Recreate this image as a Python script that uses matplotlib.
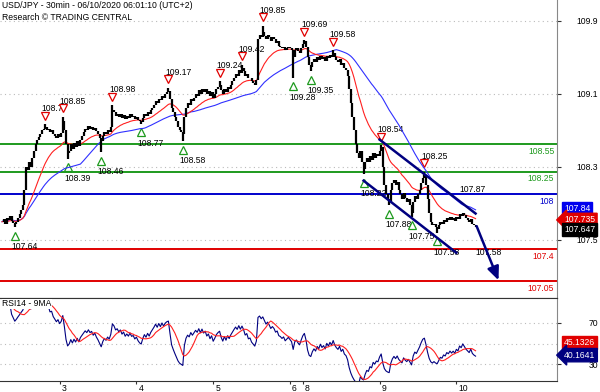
import matplotlib
matplotlib.use('Agg')
import matplotlib.pyplot as plt
import matplotlib.transforms as mtransforms
import numpy as np
import pandas as pd

plt.rcParams['font.family'] = ['Liberation Sans', 'DejaVu Sans']

# 30 min closes, USD/JPY
closes = [
    107.70, 107.73, 107.68, 107.74, 107.72, 107.76, 107.71, 107.69, 107.67, 107.70,
    107.74, 107.78, 107.83, 107.88, 108.05, 108.30, 108.27, 108.35, 108.30, 108.40,
    108.48, 108.55, 108.60, 108.63, 108.66, 108.70, 108.72, 108.74, 108.70, 108.72,
    108.68, 108.70, 108.66, 108.64, 108.62, 108.66, 108.63, 108.67, 108.80, 108.70,
    108.55, 108.45, 108.48, 108.55, 108.50, 108.56, 108.52, 108.58, 108.53, 108.60,
    108.64, 108.68, 108.72, 108.70, 108.75, 108.72, 108.74, 108.70, 108.73, 108.69,
    108.66, 108.62, 108.58, 108.64, 108.68, 108.66, 108.70, 108.68, 108.74, 108.92,
    108.90, 108.86, 108.88, 108.85, 108.88, 108.84, 108.87, 108.83, 108.86, 108.84,
    108.88, 108.85, 108.86, 108.83, 108.85, 108.82, 108.80, 108.79, 108.84, 108.88,
    108.86, 108.90, 108.88, 108.92, 108.95, 108.98, 109.02, 109.00, 109.05, 109.03,
    109.08, 109.06, 109.10, 109.12, 109.13, 109.05, 108.95, 108.90, 108.85, 108.80,
    108.74, 108.70, 108.68, 108.66, 108.85, 108.95, 109.00, 108.98, 109.05, 109.02,
    109.06, 109.10, 109.08, 109.14, 109.10, 109.16, 109.12, 109.15, 109.10, 109.13,
    109.08, 109.12, 109.06, 109.10, 109.15, 109.18, 109.20, 109.14, 109.10, 109.16,
    109.12, 109.18, 109.15, 109.20, 109.24, 109.28, 109.32, 109.30, 109.36, 109.33,
    109.38, 109.35, 109.30, 109.32, 109.27, 109.28, 109.24, 109.22, 109.20, 109.25,
    109.70, 109.75, 109.72, 109.78, 109.74, 109.70, 109.75, 109.72, 109.68, 109.72,
    109.70, 109.66, 109.68, 109.63, 109.62, 109.60, 109.62, 109.58, 109.60, 109.62,
    109.60, 109.58, 109.50, 109.58, 109.60, 109.57, 109.55, 109.60, 109.65, 109.68,
    109.62, 109.50, 109.42, 109.40, 109.45, 109.48, 109.45, 109.50, 109.47, 109.52,
    109.48, 109.50, 109.46, 109.52, 109.49, 109.53, 109.50, 109.55, 109.50, 109.47,
    109.45, 109.48, 109.42, 109.44, 109.38, 109.36, 109.30, 109.15, 109.00, 108.85,
    108.70, 108.55, 108.45, 108.40, 108.48, 108.35, 108.28, 108.35, 108.40, 108.36,
    108.42, 108.38, 108.45, 108.40, 108.44, 108.42, 108.48, 108.52, 108.30, 108.10,
    108.00, 107.95, 107.92, 108.05, 108.12, 108.16, 108.10, 108.14, 108.05, 108.00,
    107.95, 108.02, 107.96, 107.92, 107.95, 107.88, 107.80, 107.92, 107.98, 107.95,
    108.00, 108.05, 108.12, 108.18, 108.20, 108.10, 107.95, 107.80, 107.70, 107.66,
    107.68, 107.64, 107.62, 107.66, 107.70, 107.68, 107.72, 107.70, 107.74, 107.72,
    107.75, 107.72, 107.74, 107.71, 107.75, 107.73, 107.78, 107.76, 107.80, 107.77,
    107.74, 107.72, 107.70, 107.73, 107.68, 107.66, 107.647,
]

# swing highs / lows flagged on the chart
peak_bars = [27, 38, 69, 104, 136, 150, 163, 189, 207, 237, 264]
peak_vals = [108.77, 108.85, 108.98, 109.17, 109.24, 109.42, 109.85, 109.69, 109.58, 108.54, 108.25]
trough_bars = [8, 41, 62, 87, 113, 182, 193, 226, 242, 256, 272]
trough_vals = [107.64, 108.39, 108.46, 108.77, 108.58, 109.28, 109.35, 108.22, 107.88, 107.75, 107.58]

levels = [108.55, 108.25, 108.0, 107.4, 107.05]
level_labels = ['108.55', '108.25', '108', '107.4', '107.05']
level_colors = ['#1e9a1e', '#1e9a1e', '#0000cc', '#e00000', '#e00000']

upper_x, upper_y = [236, 296], [108.60, 107.79]
lower_x, lower_y = [226, 284], [108.15, 107.36]
arrow_x, arrow_y = [296, 311], [107.68, 107.03]

extra_labels = [('107.87', 286, 108.05), ('107.58', 296, 107.36)]

day_ticks = [36, 84, 132, 180, 188, 236, 284]
day_labels = ['3', '4', '5', '6', '8', '9', '10']

price_ticks = [109.9, 109.1, 108.3, 107.5]
rsi_ticks = [70, 30]
price_tags = [('107.84', 107.84, '#0000ee', 0), ('107.735', 107.735, '#e00000', -1), ('107.647', 107.647, 'black', -2)]
rsi_tags = [('45.1326', 45.13, '#e00000', 4.5), ('40.1641', 40.16, '#000080', -1)]

FS = 6.2

# ---------------------------------------------------------------
c = pd.Series(closes)
idx = np.arange(len(c))
o = np.r_[closes[0], closes[:-1]]
hi = np.maximum(o, c.values)
lo = np.minimum(o, c.values)
hi[peak_bars] = np.maximum(hi[peak_bars], peak_vals)
lo[trough_bars] = np.minimum(lo[trough_bars], trough_vals)

ma_fast = c.ewm(span=21, adjust=False).mean()
ma_slow = c.rolling(50, min_periods=1).mean()

delta = c.diff()
gain = delta.clip(lower=0).ewm(alpha=1/14, adjust=False, min_periods=2).mean()
loss = (-delta.clip(upper=0)).ewm(alpha=1/14, adjust=False, min_periods=2).mean()
rsi = 100 - 100 / (1 + gain / loss)
rsi_ma = rsi.rolling(9, min_periods=1).mean()

fig = plt.figure(figsize=(6, 3.92), dpi=100)
W, H = 600, 392
x_right = 557 / W
ax = fig.add_axes([0, 1 - 298 / H, x_right, 298 / H])
ax2 = fig.add_axes([0, 1 - 381 / H, x_right, (381 - 298) / H], sharex=ax)

ax.set_xlim(-1.25, 346.9)
ax.set_ylim(106.864, 110.13)
ax2.set_ylim(13.9, 93.9)

for a in (ax, ax2):
    a.spines['left'].set_visible(False)
    a.spines['top'].set_visible(False)
    a.spines['right'].set_color('#888888')
    a.spines['bottom'].set_color('#333333')
    a.yaxis.tick_right()
    a.tick_params(axis='y', length=3, width=0.8, color='#333333', labelsize=FS)
ax2.spines['top'].set_visible(True)
ax2.spines['top'].set_color('#333333')

# grid
for t in price_ticks:
    ax.axhline(t, color='#bbbbbb', lw=0.8, ls=(0, (1, 3)), zorder=0)
for t in [70, 50, 30]:
    ax2.axhline(t, color='#bbbbbb', lw=0.8, ls=(0, (1, 3)), zorder=0)

ax.set_yticks(price_ticks)
ax.set_yticklabels(['%.1f' % t for t in price_ticks])
ax.tick_params(axis='y', pad=11)
ax2.set_yticks(rsi_ticks)
ax2.tick_params(axis='y', pad=20)
ax.tick_params(axis='x', bottom=False, labelbottom=False)

# levels
for lv, lab, col in zip(levels, level_labels, level_colors):
    ax.axhline(lv, color=col, lw=1.4, zorder=1)
    ax.annotate(lab, (1, lv), xycoords=('axes fraction', 'data'), xytext=(-2, -2),
                textcoords='offset points', ha='right', va='top', fontsize=FS, color=col)

# labels of swings (behind candles)
for b, v in zip(peak_bars, peak_vals):
    ax.plot(b, v, marker='v', ms=6, mfc='white', mec='#e00000', mew=0.9,
            transform=mtransforms.offset_copy(ax.transData, fig, y=6, units='points'), zorder=2)
    ax.annotate('%.2f' % v, (b, v), xytext=(-2.5, 11), textcoords='offset points',
                ha='left', va='center', fontsize=FS, zorder=2)
for b, v in zip(trough_bars, trough_vals):
    ax.plot(b, v, marker='^', ms=6, mfc='white', mec='#1e9a1e', mew=0.9,
            transform=mtransforms.offset_copy(ax.transData, fig, y=-6, units='points'), zorder=2)
    ax.annotate('%.2f' % v, (b, v), xytext=(-2.5, -14), textcoords='offset points',
                ha='left', va='center', fontsize=FS, zorder=2)
for lab, b, v in extra_labels:
    ax.text(b, v, lab, ha='left', va='center', fontsize=FS, zorder=2)

# moving averages and candles
ax.plot(idx, ma_slow, color='#3030ff', lw=0.8, zorder=3)
ax.plot(idx, ma_fast, color='#ff2020', lw=0.8, zorder=3)
ax.vlines(idx, lo, hi, color='black', lw=1.6, zorder=4)

# channel + projection
ax.plot(upper_x, upper_y, color='#000080', lw=1.8, zorder=5)
ax.plot(lower_x, lower_y, color='#000080', lw=1.8, zorder=5)
ax.annotate('', xy=(arrow_x[1], arrow_y[1]), xytext=(arrow_x[0], arrow_y[0]),
            arrowprops=dict(arrowstyle='-|>,head_length=0.8,head_width=0.35', color='#000080', lw=1.8),
            zorder=5)

# rsi
ax2.plot(idx, rsi, color='#000080', lw=0.8)
ax2.plot(idx, rsi_ma, color='#ff2020', lw=0.8)

ax2.set_xticks(day_ticks)
ax2.set_xticklabels(day_labels)
ax2.tick_params(axis='x', length=2.5, width=0.8, pad=0, labelsize=FS, color='#333333')
off = mtransforms.ScaledTranslation(1.5 / 72, 0, fig.dpi_scale_trans)
for lbl in ax2.get_xticklabels():
    lbl.set_horizontalalignment('left')
    lbl.set_transform(lbl.get_transform() + off)

# value tags on the right
for txt, v, col, dy in price_tags:
    style = 'larrow,pad=0.25' if col == '#e00000' else 'square,pad=0.25'
    ax.annotate(txt, (1, v), xycoords=('axes fraction', 'data'), xytext=(5, dy),
                textcoords='offset points', ha='left', va='center', fontsize=FS, color='white',
                bbox=dict(boxstyle=style, fc=col, ec=col), annotation_clip=False)
for txt, v, col, dy in rsi_tags:
    style = 'larrow,pad=0.25' if col == '#000080' else 'square,pad=0.25'
    ax2.annotate(txt, (1, v), xycoords=('axes fraction', 'data'), xytext=(5, dy),
                 textcoords='offset points', ha='left', va='center', fontsize=FS, color='white',
                 bbox=dict(boxstyle=style, fc=col, ec=col), annotation_clip=False)

fig.text(2 / W, 1 - 6 / H, 'USD/JPY - 30min - 06/10/2020 06:01:10 (UTC+2)', fontsize=FS, va='center')
fig.text(2 / W, 1 - 17 / H, 'Research \u00a9 TRADING CENTRAL', fontsize=FS, va='center')
ax2.text(2 / W / x_right, 0.93, 'RSI14 - 9MA', transform=ax2.transAxes, fontsize=FS, va='center',
         zorder=5, bbox=dict(boxstyle='square,pad=0.05', fc='white', ec='none'))

fig.savefig('out.png', dpi=100)
